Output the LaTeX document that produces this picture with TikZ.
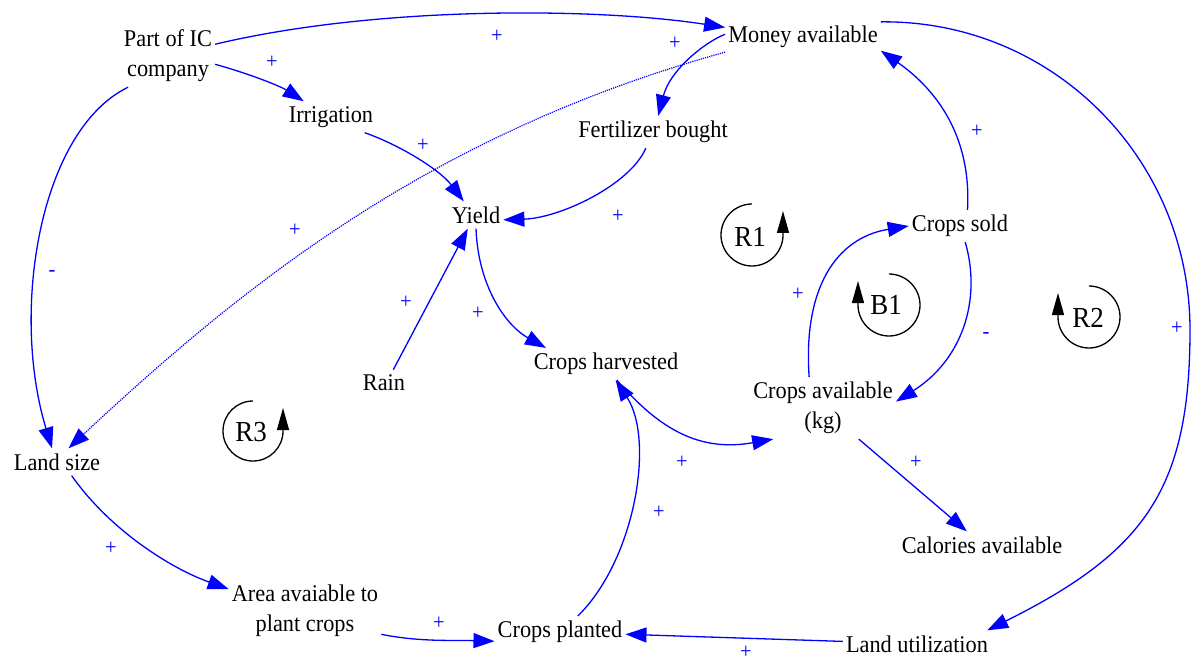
\documentclass[tikz,border=0pt]{standalone}
\usepackage{fontspec}
\setmainfont{Liberation Serif}[FakeStretch=0.93]
\usetikzlibrary{arrows.meta}
\begin{document}
\begin{tikzpicture}[x=1pt,y=-1pt,
  var/.style={font=\fontsize{24}{30}\selectfont, inner xsep=3pt, inner ysep=5pt, align=center},
  lnk/.style={draw=blue, line width=1.3pt, -{Triangle[length=21pt,width=15pt]}},
  dotlnk/.style={draw=blue, line width=1.2pt, densely dotted, -{Triangle[length=21pt,width=15pt]}},
  pol/.style={text=blue, font=\fontsize{22}{26}\selectfont, inner sep=0pt},
  loopc/.style={draw=black, line width=1.3pt, -{Triangle[length=22pt,width=12pt]}},
  looplbl/.style={font=\fontsize{29}{30}\selectfont, inner sep=0pt}]
\useasboundingbox (0,0) rectangle (1192,663);

% variables
\node[var] (part) at (168,56) {Part of IC\\company};
\node[var] (money) at (803,37) {Money available};
\node[var] (irr) at (331,117) {Irrigation};
\node[var] (fert) at (653,132) {Fertilizer bought};
\node[var] (yield) at (476,215) {Yield};
\node[var] (sold) at (960,226) {Crops sold};
\node[var] (rain) at (384,383) {Rain};
\node[var] (harv) at (606,364) {Crops harvested};
\node[var] (avail) at (823,408) {Crops available\\(kg)};
\node[var] (land) at (57,462) {Land size};
\node[var] (cal) at (982,545) {Calories available};
\node[var] (area) at (305,611) {Area avaiable to\\plant crops};
\node[var] (planted) at (560,632) {Crops planted};
\node[var] (util) at (917,644) {Land utilization};

% links
\draw[lnk] (part.14) .. controls (380,5) and (600,8) .. (money.173);
\draw[lnk] (part.-10) .. controls (250,74) and (280,86) .. (irr.150);
\draw[lnk] (part.218) .. controls (40,130) and (10,310) .. (land.110);
\draw[lnk] (irr.-25) .. controls (400,145) and (440,170) .. (yield.132);
\draw[lnk] (money.178) .. controls (705,42) and (670,70) .. (fert.72);
\draw[dotlnk] (money.191) .. controls (437,132) and (252,277) .. (land.50);
\draw[lnk] (fert.-114) .. controls (630,185) and (560,218) .. (yield.-10);
\draw[lnk] (rain.55) -- (yield.-121);
\draw[lnk] (yield.-90) .. controls (478,285) and (505,325) .. (harv.165);
\draw[lnk] (sold.65) .. controls (972,130) and (930,85) .. (money.-10);
\draw[lnk] (money.11) .. controls (1053,20) and (1190,159) .. (1190,330)
   .. controls (1190,490) and (1144,552) .. (util.11);
\draw[lnk] (avail.114) .. controls (803,290) and (835,238) .. (sold.180);
\draw[lnk] (sold.-72) .. controls (982,300) and (962,360) .. (avail.5);
\draw[lnk] (harv.-56) .. controls (660,430) and (700,452) .. (avail.212);
\draw[lnk] (planted.42) .. controls (635,560) and (655,440) .. (harv.-59);
\draw[lnk] (avail.-41) -- (cal.138);
\draw[lnk] (land.-43) .. controls (110,530) and (170,568) .. (area.164);
\draw[lnk] (area.-17) .. controls (420,642) and (450,640) .. (planted.188);
\draw[lnk] (util.178) -- (planted.-2);

% polarities
\node[pol] (p1) at (497,36) {+};
\node[pol] (p2) at (272,62) {+};
\node[pol] (p3) at (52,273) {-};
\node[pol] (p4) at (423,145) {+};
\node[pol] (p5) at (675,43) {+};
\node[pol] (p6) at (295,230) {+};
\node[pol] (p7) at (618,216) {+};
\node[pol] (p8) at (406,302) {+};
\node[pol] (p9) at (478,313) {+};
\node[pol] (p10) at (977,131) {+};
\node[pol] (p11) at (1177,328) {+};
\node[pol] (p12) at (798,294) {+};
\node[pol] (p13) at (986,335) {-};
\node[pol] (p14) at (682,462) {+};
\node[pol] (p15) at (659,512) {+};
\node[pol] (p16) at (916,462) {+};
\node[pol] (p17) at (111,548) {+};
\node[pol] (p18) at (439,623) {+};
\node[pol] (p19) at (746,652) {+};

% loop symbols
\node[looplbl] (r1) at (750,237) {R1};
\draw[loopc] (752,204) .. controls (735,204) and (721,218) .. (721,235)
  .. controls (721,252) and (735,266) .. (752,266)
  .. controls (769,266) and (783,252) .. (783,235) -- (783,211);
\node[looplbl] (b1) at (886,305) {B1};
\draw[loopc] (889,274) .. controls (906,274) and (920,288) .. (920,305)
  .. controls (920,322) and (906,336) .. (889,336)
  .. controls (872,336) and (858,322) .. (858,305) -- (858,281);
\node[looplbl] (r2) at (1088,318) {R2};
\draw[loopc] (1089,286) .. controls (1106,286) and (1120,300) .. (1120,317)
  .. controls (1120,334) and (1106,348) .. (1089,348)
  .. controls (1072,348) and (1058,334) .. (1058,317) -- (1058,293);
\node[looplbl] (r3) at (251,432) {R3};
\draw[loopc] (253,401) .. controls (236.4,401) and (223,414.4) .. (223,431)
  .. controls (223,447.6) and (236.4,461) .. (253,461)
  .. controls (269.6,461) and (283,447.6) .. (283,431) -- (283,408);
\end{tikzpicture}
\end{document}
